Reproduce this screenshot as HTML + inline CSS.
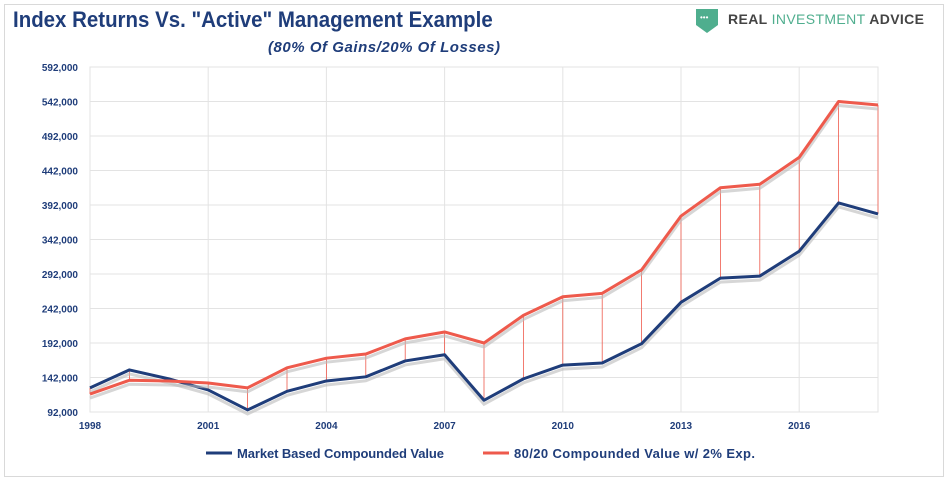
<!DOCTYPE html>
<html><head><meta charset="utf-8"><style>
body{margin:0;background:#fff;width:949px;height:481px;overflow:hidden;font-family:"Liberation Sans",sans-serif}
#frame{position:absolute;left:4px;top:4px;width:938px;height:471px;border:1px solid #d9d9d9}
</style></head><body>
<div id="frame"></div>
<svg id="c" width="949" height="481" style="position:absolute;left:0;top:0">
<text x="14" y="27" font-size="22" font-weight="bold" fill="#1f3d7a" transform="scale(0.93,1)" style="font-family:'Liberation Sans Narrow','Liberation Sans',sans-serif">Index Returns Vs. "Active" Management Example</text>
<text x="268" y="52" font-size="15" font-weight="bold" font-style="italic" fill="#1f3d7a" textLength="232">(80% Of Gains/20% Of Losses)</text>
<path d="M696 9 h22 v16 l-11 8 l-11 -8z" fill="#4fae8e"/>
<text x="700" y="20" font-size="8" fill="#fff">•••</text>
<text x="728" y="24" font-size="14" font-weight="bold" fill="#444" textLength="196">REAL <tspan fill="#4fae8e" font-weight="normal">INVESTMENT</tspan> ADVICE</text>
<g id="grid"></g><g id="drops"></g><g id="lines"></g><g id="axes"></g>
<g>
<line x1="206" y1="453" x2="232" y2="453" stroke="#1f3d7a" stroke-width="3"/>
<text x="237" y="458" font-size="13" font-weight="bold" fill="#1f3d7a" textLength="207">Market Based Compounded Value</text>
<line x1="483" y1="453" x2="509" y2="453" stroke="#ee5a4c" stroke-width="3"/>
<text x="514" y="458" font-size="13" font-weight="bold" fill="#1f3d7a" textLength="241">80/20 Compounded Value w/ 2% Exp.</text>
</g>
</svg>
<script>
const years=[1998,1999,2000,2001,2002,2003,2004,2005,2006,2007,2008,2009,2010,2011,2012,2013,2014,2015,2016,2017,2018];
const market=[127000,153000,140000,124000,95000,122000,137000,143000,166000,175000,109000,140000,160000,163000,191000,251000,286000,289000,325000,395000,379000];
const active=[118000,138000,137000,134000,127000,156000,170000,176000,198000,208000,192000,232000,259000,264000,298000,376000,417000,422000,461000,542000,537000];
const yTicks=[92000,142000,192000,242000,292000,342000,392000,442000,492000,542000,592000];
const xTicks=[1998,2001,2004,2007,2010,2013,2016];
const NS='http://www.w3.org/2000/svg';
const X=y=>90+(y-1998)*(878-90)/20;
const Y=v=>412-(v-92000)*(412-67)/500000;
function mk(p,t,a){const e=document.createElementNS(NS,t);for(const k in a)e.setAttribute(k,a[k]);document.getElementById(p).appendChild(e);return e;}
yTicks.forEach(v=>{
 const l=mk('grid','line',{x1:90,x2:878,y1:Y(v),y2:Y(v),stroke:'#e3e3e3'});
 
 
 const t=mk('axes','text',{x:78,y:Y(v)+4,'text-anchor':'end','font-size':10,'font-weight':'bold',fill:'#1f3d7a'});
 t.textContent=v.toLocaleString('en-US');
 
 
});
xTicks.forEach(y=>{
 const l=mk('grid','line',{x1:X(y),x2:X(y),y1:67,y2:412,stroke:'#e3e3e3'});
 
 
 const t=mk('axes','text',{x:X(y),y:429,'text-anchor':'middle','font-size':10,'font-weight':'bold',fill:'#1f3d7a'});
 t.textContent=y;
 
 
});
const r=mk('grid','rect',{x:90,y:67,width:788,height:345,fill:'none',stroke:'#e3e3e3'});


years.forEach((y,i)=>{
 const l=mk('drops','line',{x1:X(y),x2:X(y),y1:Y(market[i]),y2:Y(active[i]),stroke:'#ee5a4c','stroke-width':0.8});
 
 
});
function pts(a,dy){return years.map((y,i)=>X(y)+','+(Y(a[i])+dy)).join(' ');}
[['market',market,'#1f3d7a'],['active',active,'#ee5a4c']].forEach(([n,a,c])=>{
 const s=mk('lines','polyline',{points:pts(a,4),fill:'none',stroke:'#bbb','stroke-width':3,opacity:0.6});
 
 
 const p=mk('lines','polyline',{points:pts(a,0),fill:'none',stroke:c,'stroke-width':3,'stroke-linejoin':'round'});
 
 
});
</script>
</body></html>
